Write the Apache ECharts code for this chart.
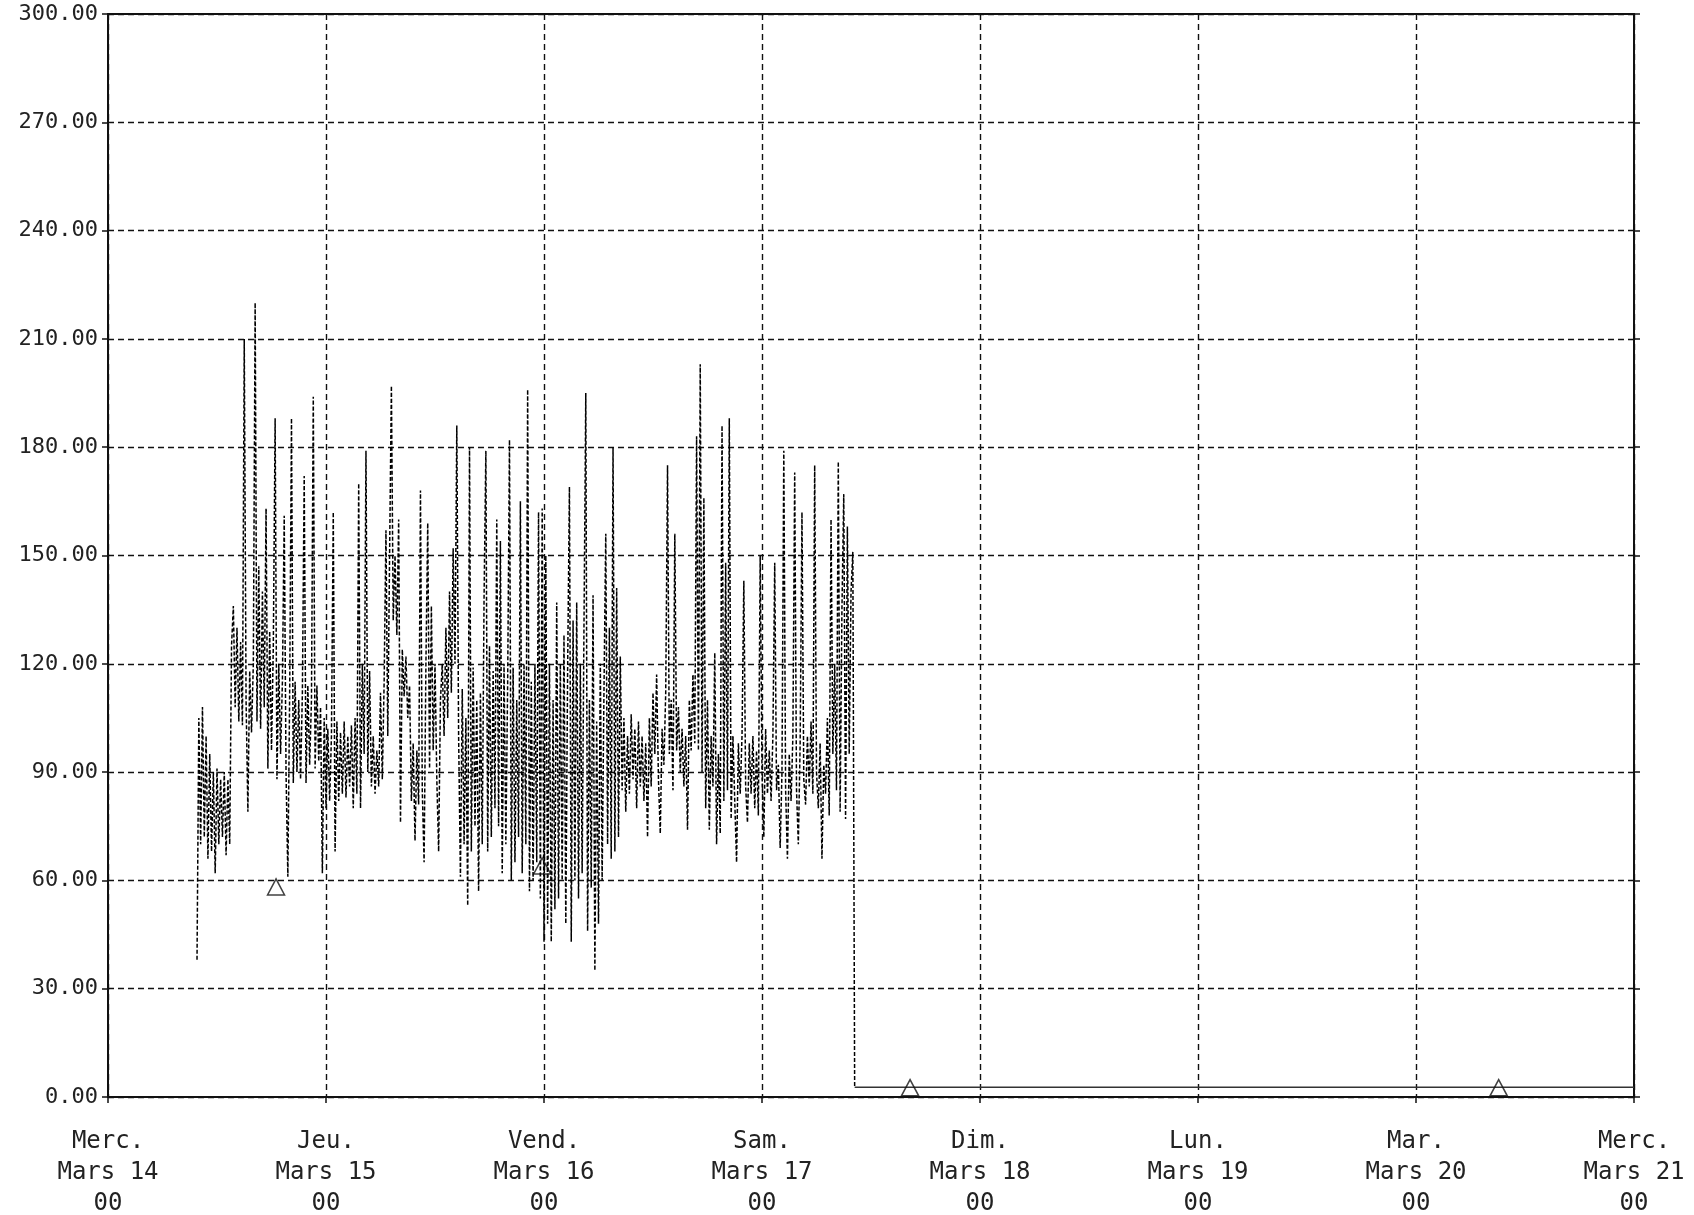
<!DOCTYPE html>
<html>
<head>
<meta charset="utf-8">
<title>Débit - semaine du 14 mars</title>
<script src="https://cdn.jsdelivr.net/npm/echarts@6/dist/echarts.min.js"></script>
<style>
  html, body { margin: 0; padding: 0; background: #fff; }
  #chart { width: 1694px; height: 1215px; }
</style>
</head>
<body>
<div id="chart"></div>
<script>
// Time axis: hours counted from Mercredi 14 mars, 00 h
const dayNames = ['Merc.', 'Jeu.', 'Vend.', 'Sam.', 'Dim.', 'Lun.', 'Mar.', 'Merc.'];
const dayDates = ['Mars 14', 'Mars 15', 'Mars 16', 'Mars 17', 'Mars 18', 'Mars 19', 'Mars 20', 'Mars 21'];
const hourLabel = '00';
const yMin = 0, yMax = 300, yStep = 30;

// Recorded readings, one every 0.2 h starting at 9.8 h (one line per hour)
const readStart = 9.8;
const readStep = 0.2;
const readings = [
  38,
  105, 70, 108, 72, 100,     // 10 h
  66, 95, 68, 90, 62,        // 11 h
  91, 70, 88, 72, 90,        // 12 h
  67, 88, 70, 125, 136,      // 13 h
  108, 130, 104, 126, 103,   // 14 h
  210, 110, 79, 118, 101,    // 15 h
  120, 220, 104, 147, 102,   // 16 h
  140, 108, 163, 91, 129,    // 17 h
  96, 125, 188, 88, 120,     // 18 h
  95, 115, 161, 90, 61,      // 19 h
  112, 188, 87, 115, 90,     // 20 h
  110, 88, 112, 172, 87,     // 21 h
  114, 92, 110, 194, 91,     // 22 h
  114, 93, 108, 62, 105,     // 23 h
  80, 102, 82, 100, 162,     // 24 h
  68, 104, 82, 101, 84,      // 25 h
  104, 83, 100, 86, 103,     // 26 h
  80, 105, 84, 170, 80,      // 27 h
  120, 95, 179, 90, 118,     // 28 h
  86, 100, 84, 96, 86,       // 29 h
  112, 88, 115, 157, 100,    // 30 h
  150, 197, 132, 150, 128,   // 31 h
  160, 76, 124, 111, 122,    // 32 h
  105, 114, 82, 98, 71,      // 33 h
  96, 81, 168, 85, 65,       // 34 h
  120, 159, 91, 136, 96,     // 35 h
  120, 88, 68, 110, 120,     // 36 h
  100, 130, 105, 140, 112,   // 37 h
  152, 120, 186, 100, 61,    // 38 h
  113, 70, 105, 53, 180,     // 39 h
  68, 119, 75, 110, 57,      // 40 h
  112, 70, 138, 179, 68,     // 41 h
  125, 72, 118, 80, 160,     // 42 h
  75, 154, 62, 120, 70,      // 43 h
  115, 182, 60, 119, 65,     // 44 h
  110, 72, 165, 62, 120,     // 45 h
  70, 196, 57, 115, 60,      // 46 h
  120, 65, 162, 55, 163,     // 47 h
  43, 150, 48, 120, 43,      // 48 h
  110, 52, 137, 55, 120,     // 49 h
  60, 128, 48, 118, 169,     // 50 h
  43, 132, 60, 137, 55,      // 51 h
  120, 62, 130, 195, 46,     // 52 h
  110, 58, 139, 35, 104,     // 53 h
  48, 120, 60, 112, 156,     // 54 h
  70, 130, 66, 180, 68,      // 55 h
  141, 72, 122, 85, 105,     // 56 h
  79, 100, 84, 106, 88,      // 57 h
  102, 80, 104, 86, 100,     // 58 h
  82, 98, 72, 105, 86,       // 59 h
  112, 95, 117, 88, 73,      // 60 h
  102, 92, 112, 175, 95,     // 61 h
  110, 85, 156, 96, 108,     // 62 h
  90, 102, 86, 100, 74,      // 63 h
  110, 96, 117, 98, 183,     // 64 h
  96, 203, 90, 166, 80,      // 65 h
  110, 74, 100, 86, 123,     // 66 h
  70, 95, 73, 186, 82,       // 67 h
  148, 85, 188, 77, 100,     // 68 h
  82, 65, 98, 84, 100,       // 69 h
  143, 86, 76, 98, 84,       // 70 h
  100, 80, 96, 78, 150,      // 71 h
  90, 72, 102, 84, 96,       // 72 h
  82, 100, 148, 85, 92,      // 73 h
  69, 90, 179, 85, 66,       // 74 h
  95, 82, 100, 173, 85,      // 75 h
  70, 98, 162, 88, 81,       // 76 h
  100, 86, 104, 84, 175,     // 77 h
  90, 80, 98, 66, 92,        // 78 h
  84, 105, 78, 160, 95,      // 79 h
  120, 85, 176, 79, 135,     // 80 h
  167, 77, 158, 95, 140,     // 81 h
  151, 2.7                   // 82 h
];

// Residual level after the stop, held to the end of the week
const restHours = [82.2, 168];
const restLevel = [2.7, 2.7];

// Event marks (hour, value)
const markHours = [18.5, 47.8, 88.3, 153.1];
const markValues = [58.2, 64, 2.6, 2.6];

const readingData = readings.map((v, i) => [+(readStart + i * readStep).toFixed(2), v]);
const restData = restHours.map((h, i) => [h, restLevel[i]]);
const markData = markHours.map((h, i) => [h, markValues[i]]);

const ink = '#111';
const labelFont = 'DejaVu Sans Mono';

const chart = echarts.init(document.getElementById('chart'), null, { renderer: 'canvas' });
chart.setOption({
  backgroundColor: '#fff',
  animation: false,
  grid: {
    left: 108, right: 60, top: 14, bottom: 118,
    containLabel: false,
    outerBoundsMode: 'none'
  },
  xAxis: [
    {
      type: 'value',
      min: 0,
      max: 168,
      interval: 24,
      position: 'bottom',
      axisLine: { show: true, onZero: false, lineStyle: { color: ink, width: 2 } },
      axisTick: { show: true, inside: false, length: 6, lineStyle: { color: ink, width: 1.5 } },
      splitLine: { show: true, lineStyle: { color: ink, width: 1.4, type: [6, 4] } },
      axisLabel: {
        show: true,
        interval: 0,
        showMinLabel: true,
        showMaxLabel: true,
        margin: 29,
        fontFamily: labelFont,
        fontSize: 24,
        lineHeight: 31,
        color: '#222',
        align: 'center',
        verticalAlign: 'top',
        formatter: (v) => {
          const i = Math.round(v / 24);
          return dayNames[i] + '\n' + dayDates[i] + '\n' + hourLabel;
        }
      }
    },
    {
      type: 'value',
      min: 0,
      max: 168,
      interval: 24,
      position: 'top',
      axisLine: { show: true, onZero: false, lineStyle: { color: ink, width: 2 } },
      axisTick: { show: false },
      axisLabel: { show: false },
      splitLine: { show: false }
    }
  ],
  yAxis: [
    {
      type: 'value',
      min: yMin,
      max: yMax,
      interval: yStep,
      position: 'left',
      axisLine: { show: true, onZero: false, lineStyle: { color: ink, width: 2 } },
      axisTick: { show: true, inside: false, length: 6, lineStyle: { color: ink, width: 1.5 } },
      splitLine: { show: true, lineStyle: { color: ink, width: 1.4, type: [6, 4] } },
      axisLabel: {
        show: true,
        margin: 10,
        fontFamily: labelFont,
        fontSize: 22,
        color: '#222',
        formatter: (v) => v.toFixed(2)
      }
    },
    {
      type: 'value',
      min: yMin,
      max: yMax,
      interval: yStep,
      position: 'right',
      axisLine: { show: true, onZero: false, lineStyle: { color: ink, width: 2 } },
      axisTick: { show: true, inside: false, length: 6, lineStyle: { color: ink, width: 1.5 } },
      axisLabel: { show: false },
      splitLine: { show: false }
    }
  ],
  series: [
    {
      name: 'Débit',
      type: 'line',
      data: readingData,
      showSymbol: false,
      symbol: 'none',
      sampling: null,
      z: 3,
      lineStyle: { color: '#000', width: 1.5, type: [4, 2] }
    },
    {
      name: 'Arrêt',
      type: 'line',
      data: restData,
      showSymbol: false,
      symbol: 'none',
      z: 3,
      lineStyle: { color: '#333', width: 1.3, type: 'solid' }
    },
    {
      name: 'Repères',
      type: 'scatter',
      data: markData,
      symbol: 'triangle',
      symbolSize: [17, 16],
      z: 4,
      itemStyle: { color: 'rgba(0,0,0,0)', borderColor: ink, borderWidth: 1.5 }
    }
  ]
});
</script>
</body>
</html>
